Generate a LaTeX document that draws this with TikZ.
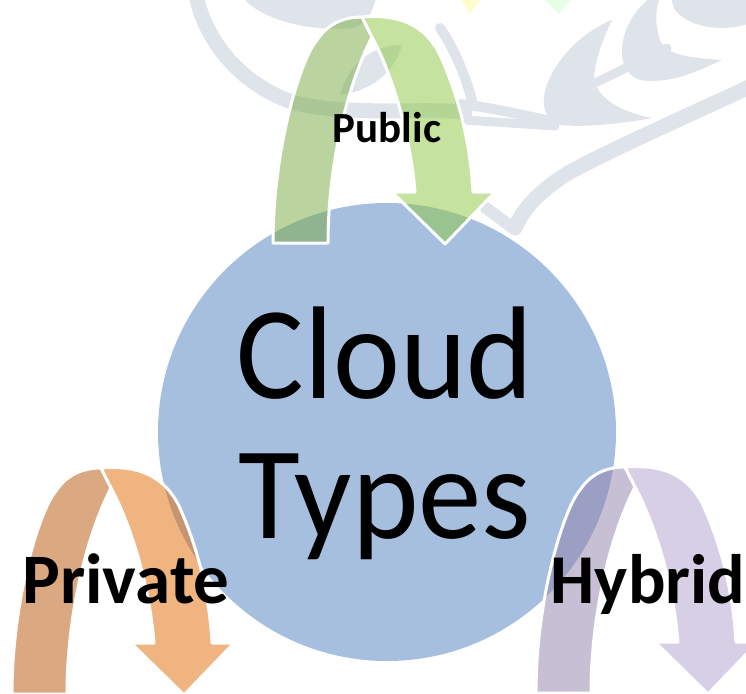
\documentclass[tikz,border=0pt]{standalone}
\usepackage{fontspec}
\setmainfont{Carlito}
\definecolor{circfill}{RGB}{167,191,222}
\definecolor{wmc}{RGB}{223,228,234}
\definecolor{gL}{RGB}{121,171,65}
\definecolor{gR}{RGB}{141,199,65}
\definecolor{oL}{RGB}{185,85,5}
\definecolor{oR}{RGB}{227,107,5}
\definecolor{pL}{RGB}{145,129,169}
\definecolor{pR}{RGB}{177,161,205}
\tikzset{
  wm/.style={draw=wmc, line width=15pt, line cap=round},
  arrowpart/.style={draw=white, line width=3pt, line join=round, fill opacity=0.5},
  bigtext/.style={font=\fontsize{132}{140}\selectfont, xscale=0.96, anchor=base, inner sep=0pt},
  lbl/.style={font=\bfseries, anchor=base, inner sep=0pt}
}
\newcommand\cloudarrow[3]{%
  \begin{scope}[shift={#1}]
    \path[arrowpart, fill=#2] (273,243) .. controls (273,150) and (300,60) .. (317,40)
      .. controls (327,25) and (342,17) .. (362,17) -- (372,37)
      .. controls (345,90) and (328,170) .. (328,243) -- cycle;
    \path[arrowpart, fill=#3] (362,17) .. controls (400,14) and (425,25) .. (440,55)
      .. controls (458,95) and (470,140) .. (473,192) -- (495,192) -- (445,244)
      -- (392,192) -- (415,192) .. controls (410,130) and (390,70) .. (372,37) -- cycle;
  \end{scope}}
\begin{document}
\begin{tikzpicture}[x=1pt,y=-1pt]
\useasboundingbox (0,0) rectangle (746,693);
\clip (0,0) rectangle (746,693);
\fill[white] (0,0) rectangle (746,693);
% faint watermark
\draw[wm] (196,-5) .. controls (205,40) and (240,85) .. (295,103)
   .. controls (350,116) and (420,108) .. (465,112);
\fill[wmc] (243,-2) .. controls (262,20) and (310,32) .. (352,28)
   .. controls (364,26) and (372,14) .. (376,-2) -- cycle;
\fill[wmc] (340,95) .. controls (350,60) and (375,45) .. (402,45) .. controls (395,70) and (375,90) .. (340,95) -- cycle;
\draw[wm, line width=10pt] (440,28) .. controls (455,50) and (465,75) .. (472,100);
\draw[wm, line width=10pt] (460,104) .. controls (495,108) and (525,116) .. (552,121);
\draw[wm, line width=9pt] (465,120) -- (555,126);
\draw[wm] (760,82) .. controls (700,110) and (610,150) .. (570,172)
   .. controls (540,190) and (522,210) .. (515,228);
\draw[wm, line width=12pt] (486,208) -- (513,228);
\fill[wmc] (612,20) .. controls (560,40) and (520,110) .. (560,125)
   .. controls (590,128) and (630,122) .. (652,118)
   .. controls (610,110) and (590,90) .. (595,70)
   .. controls (598,50) and (605,35) .. (612,20) -- cycle;
\fill[wmc] (650,-2) .. controls (620,20) and (610,70) .. (640,80)
   .. controls (670,85) and (700,70) .. (722,60)
   .. controls (690,58) and (665,55) .. (660,40)
   .. controls (655,25) and (655,10) .. (660,-2) -- cycle;
\draw[wm, line width=9pt] (597,82) -- (667,48);
\fill[wmc] (722,0) ellipse [x radius=50pt, y radius=28pt];
\fill[yellow!20] (462,0) -- (480,0) -- (469,14) -- cycle;
\fill[green!10] (545,0) -- (570,0) -- (559,14) -- cycle;
% central circle
\node[circle, fill=circfill, minimum size=458pt, inner sep=0pt] (core) at (387,432) {};
% arrows
\cloudarrow{(0,0)}{gL}{gR}
\cloudarrow{(-261,451)}{oL}{oR}
\cloudarrow{(263,450)}{pL}{pR}
% texts
\node[bigtext] (cloud) at (385,398) {Cloud};
\node[bigtext] (types) at (385,538) {Types};
\node[lbl, font=\bfseries\fontsize{43}{46}\selectfont] (public) at (387,142) {Public};
\node[lbl, font=\bfseries\fontsize{71}{74}\selectfont] (private) at (126,603) {Private};
\node[lbl, font=\bfseries\fontsize{70}{74}\selectfont] (hybrid) at (648,603) {Hybrid};
\end{tikzpicture}
\end{document}
